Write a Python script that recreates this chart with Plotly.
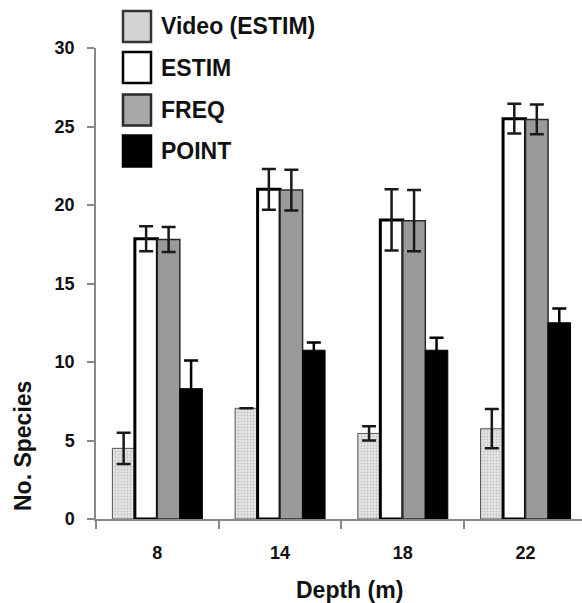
import plotly.graph_objects as go

depths = ["8", "14", "18", "22"]
series_names = ["Video (ESTIM)", "ESTIM", "FREQ", "POINT"]
video = [4.5, 7.05, 5.45, 5.75]
video_err = [1.0, None, 0.45, 1.25]
estim = [17.85, 21.0, 19.05, 25.5]
estim_err = [0.8, 1.3, 1.95, 0.95]
freq = [17.8, 20.95, 19.0, 25.45]
freq_err = [0.8, 1.3, 1.95, 0.95]
point = [8.3, 10.75, 10.75, 12.5]
point_err = [1.8, 0.5, 0.8, 0.9]
y_ticks = [0, 5, 10, 15, 20, 25, 30]

W, H = 582, 603
L, R, T, B = 96, 0, 48, 84
pw, ph = W - L - R, H - T - B

def px(x):
    return (x - L) / pw

def py(y):
    return (H - B - y) / ph

err_style = dict(type="data", thickness=2.5, width=7, color="#1a1a1a", visible=True)

fig = go.Figure()
fig.add_trace(go.Bar(
    x=depths, y=video, name=series_names[0],
    marker=dict(color="#dcdcdc", line=dict(color="#555555", width=1),
                pattern=dict(shape=".", bgcolor="#e6e6e6", fgcolor="#9a9a9a", size=3, solidity=0.3)),
    error_y=dict(array=video_err, **err_style)))
fig.add_trace(go.Bar(
    x=depths, y=estim, name=series_names[1],
    marker=dict(color="#ffffff", line=dict(color="#000000", width=3)),
    error_y=dict(array=estim_err, **err_style)))
fig.add_trace(go.Bar(
    x=depths, y=freq, name=series_names[2],
    marker=dict(color="#9a9a9a", line=dict(color="#2a2a2a", width=1.5)),
    error_y=dict(array=freq_err, **err_style)))
fig.add_trace(go.Bar(
    x=depths, y=point, name=series_names[3],
    marker=dict(color="#000000", line=dict(color="#000000", width=1)),
    error_y=dict(array=point_err, type="data", thickness=2.5, width=7, color="#000000", visible=True)))

tick_font = dict(family="Liberation Sans, Arial", size=18, color="#111111", weight="bold")
title_font = dict(family="Liberation Sans, Arial", size=23, color="#111111")

fig.update_layout(
    width=W, height=H,
    margin=dict(l=L, r=R, t=T, b=B, pad=0),
    paper_bgcolor="white", plot_bgcolor="white",
    barmode="group", bargap=0.267, bargroupgap=0,
    showlegend=False,
    xaxis=dict(type="category", range=[-0.5, 3.46], tickson="boundaries",
               showline=True, linecolor="#888888", linewidth=1.5,
               ticks="outside", ticklen=8, tickcolor="#888888", tickwidth=1.5,
               ticklabelstandoff=17,
               showgrid=False, zeroline=False,
               tickfont=tick_font),
    yaxis=dict(range=[0, 30], tickvals=y_ticks, showline=True, linecolor="#888888", linewidth=1.5,
               ticks="outside", ticklen=7, tickcolor="#888888", tickwidth=1.5,
               ticklabelstandoff=9,
               showgrid=False, zeroline=False, tickfont=tick_font),
)

fig.add_annotation(text="<b>Depth (m)</b>", xref="paper", yref="paper",
                   x=px(349), y=py(590), showarrow=False, font=title_font,
                   xanchor="center", yanchor="middle")
fig.add_annotation(text="<b>No. Species</b>", xref="paper", yref="paper",
                   x=px(23), y=py(446), showarrow=False, font=title_font, textangle=-90,
                   xanchor="center", yanchor="middle")

legend_fills = ["#d4d4d4", "#ffffff", "#a8a8a8", "#000000"]
legend_lines = ["#333333", "#000000", "#2a2a2a", "#000000"]
legend_cy = [26.5, 67.5, 110, 151]
for name, fc, lc, cy in zip(series_names, legend_fills, legend_lines, legend_cy):
    fig.add_shape(type="rect", xref="paper", yref="paper",
                  x0=px(123), x1=px(151), y0=py(cy - 15.5), y1=py(cy + 15.5),
                  fillcolor=fc, line=dict(color=lc, width=2.5))
    fig.add_annotation(text="<b>%s</b>" % name, xref="paper", yref="paper",
                       x=px(159), y=py(cy), showarrow=False, xanchor="left", yanchor="middle",
                       font=dict(family="Liberation Sans, Arial", size=23, color="#111111"))

fig.write_html("out.html", config={"displayModeBar": False})
with open("out.html", "r", encoding="utf-8") as f:
    html = f.read()
html = html.replace("<head>", "<head><style>html,body{margin:0;padding:0;overflow:hidden;}</style>", 1)
with open("out.html", "w", encoding="utf-8") as f:
    f.write(html)
